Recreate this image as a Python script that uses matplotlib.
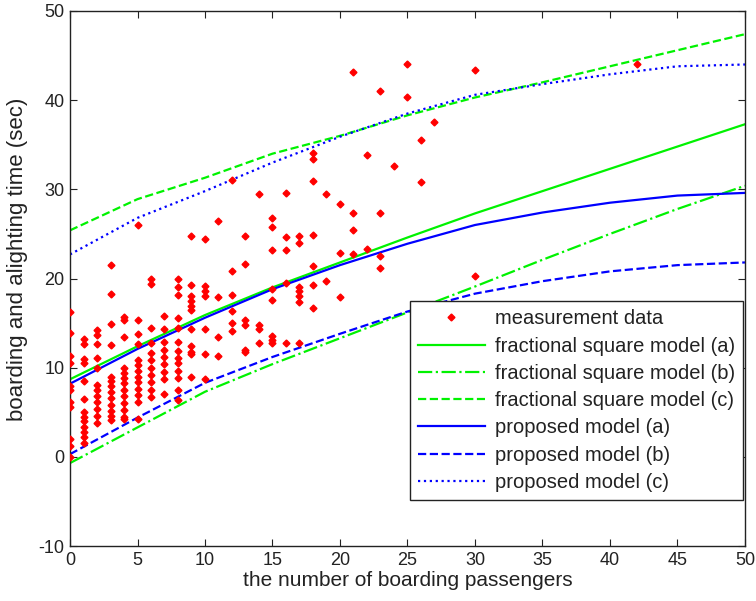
import numpy as np
import matplotlib
matplotlib.use('Agg')
import matplotlib.pyplot as plt

plt.rcParams['font.family'] = ['Liberation Sans', 'DejaVu Sans']
plt.rcParams['axes.unicode_minus'] = False

# measured boarding/alighting times, grouped by number of boarding passengers
meas = {
    0: [16.2, 13.9, 11.3, 10.5, 8.0, 7.5, 6.2, 5.6, 2.0, 1.2, 0.0],
    1: [13.2, 12.7, 11.0, 10.5, 8.5, 6.5, 5.0, 4.5, 4.0, 3.4, 2.8, 2.2, 1.5],
    2: [14.2, 13.7, 12.7, 11.1, 10.0, 8.1, 7.5, 6.8, 6.2, 5.4, 4.6, 3.8],
    3: [21.5, 18.3, 14.9, 12.5, 9.0, 8.5, 8.0, 7.3, 6.6, 5.8, 5.1, 4.6, 4.1],
    4: [15.7, 15.4, 13.4, 10.0, 9.4, 8.8, 8.3, 7.5, 6.8, 6.0, 5.3, 4.5, 4.2],
    5: [26.0, 15.4, 13.8, 12.6, 10.9, 10.3, 9.6, 9.0, 8.4, 7.6, 6.9, 6.1, 4.2],
    6: [20.0, 19.4, 14.4, 12.8, 11.7, 10.9, 10.0, 9.2, 8.4, 7.5, 6.7],
    7: [15.8, 14.3, 12.9, 12.0, 11.2, 10.4, 9.5, 8.7, 7.0],
    8: [19.9, 19.0, 18.1, 15.6, 14.5, 12.9, 11.9, 11.1, 10.5, 9.6, 8.8, 7.5, 6.4],
    9: [24.8, 19.3, 18.0, 17.5, 16.9, 16.5, 14.3, 12.4, 11.8, 11.5, 8.9],
    10: [24.4, 19.2, 18.6, 18.0, 14.3, 11.5, 8.7],
    11: [26.4, 17.9, 13.4, 11.3],
    12: [31.1, 20.8, 18.2, 16.3, 15.0, 14.1],
    13: [24.8, 21.6, 15.4, 14.8, 12.0, 11.8],
    14: [29.5, 14.8, 14.3, 12.8],
    15: [26.8, 25.8, 23.2, 18.8, 17.6, 13.6, 13.1, 12.8],
    16: [29.6, 24.6, 23.2, 19.5, 12.8],
    17: [24.8, 24.0, 19.1, 18.6, 18.0, 17.4, 12.8],
    18: [34.1, 33.4, 30.9, 24.9, 21.4, 19.3, 16.7],
    19: [29.5, 19.7],
    20: [28.4, 22.9, 17.9],
    21: [43.2, 27.4, 25.4, 22.7],
    22: [33.9, 23.3],
    23: [41.0, 27.4, 22.5, 21.2],
    24: [32.6],
    25: [44.0, 40.3],
    26: [35.5, 30.8],
    27: [37.5],
    30: [43.4, 20.3],
    42: [44.1],
}
meas_x = [k for k, v in meas.items() for _ in v]
meas_y = [y for v in meas.values() for y in v]

# model curves
n = [0, 5, 10, 15, 20, 25, 30, 35, 40, 45, 50]
frac_a = [8.7, 12.4, 15.9, 19.0, 21.8, 24.6, 27.3, 29.8, 32.3, 34.8, 37.3]
frac_b = [-0.7, 3.3, 7.3, 10.4, 13.3, 16.2, 19.1, 22.1, 25.0, 27.8, 30.4]
frac_c = [25.4, 28.9, 31.3, 34.0, 36.0, 38.3, 40.3, 42.0, 43.8, 45.6, 47.4]
prop_a = [8.2, 12.1, 15.6, 18.8, 21.5, 23.9, 26.0, 27.4, 28.5, 29.3, 29.6]
prop_b = [0.3, 4.4, 8.3, 11.2, 13.8, 16.3, 18.3, 19.7, 20.8, 21.5, 21.8]
prop_c = [22.7, 26.8, 29.8, 33.0, 35.9, 38.5, 40.6, 41.8, 42.9, 43.8, 44.0]

fig = plt.figure(figsize=(7.56, 6.01), dpi=100)
ax = fig.add_axes([0.0926, 0.0915, 0.8928, 0.8902])

green = (0, 0.95, 0)
blue = (0, 0, 1)
lw = 1.6
txt = '#222222'

ax.plot(meas_x, meas_y, 'D', color='red', ms=3.5, mec='red',
        label='measurement data', zorder=3)
ax.plot(n, frac_a, '-', color=green, lw=lw, label='fractional square model (a)')
ax.plot(n, frac_b, '-.', color=green, lw=lw, label='fractional square model (b)')
ax.plot(n, frac_c, '--', color=green, lw=lw, label='fractional square model (c)')
ax.plot(n, prop_a, '-', color=blue, lw=lw, label='proposed model (a)')
ax.plot(n, prop_b, '--', color=blue, lw=lw, label='proposed model (b)')
ax.plot(n, prop_c, ':', color=blue, lw=lw, label='proposed model (c)')

ax.set_xlim(0, 50)
ax.set_ylim(-10, 50)
ax.set_xticks(np.arange(0, 51, 5))
ax.set_yticks(np.arange(-10, 51, 10))
ax.tick_params(direction='in', top=True, right=True, labelsize=13, length=5,
               colors=txt, pad=4)
for s in ax.spines.values():
    s.set_linewidth(1.0)
    s.set_color(txt)

ax.set_xlabel('the number of boarding passengers', fontsize=15, color=txt,
              labelpad=2)
ax.set_ylabel('boarding and alighting time (sec)', fontsize=16, color=txt)
ax.yaxis.set_label_coords(-0.062, 0.536)

leg = ax.legend(loc='lower right', bbox_to_anchor=(0.997, 0.086), fontsize=14.5,
                handlelength=3.3, fancybox=False, framealpha=1, edgecolor=txt,
                borderaxespad=0, labelspacing=0.41, handletextpad=0.5,
                borderpad=0.4)
leg.get_frame().set_linewidth(1.0)
for t in leg.get_texts():
    t.set_color(txt)

fig.savefig('out.png', dpi=100)
